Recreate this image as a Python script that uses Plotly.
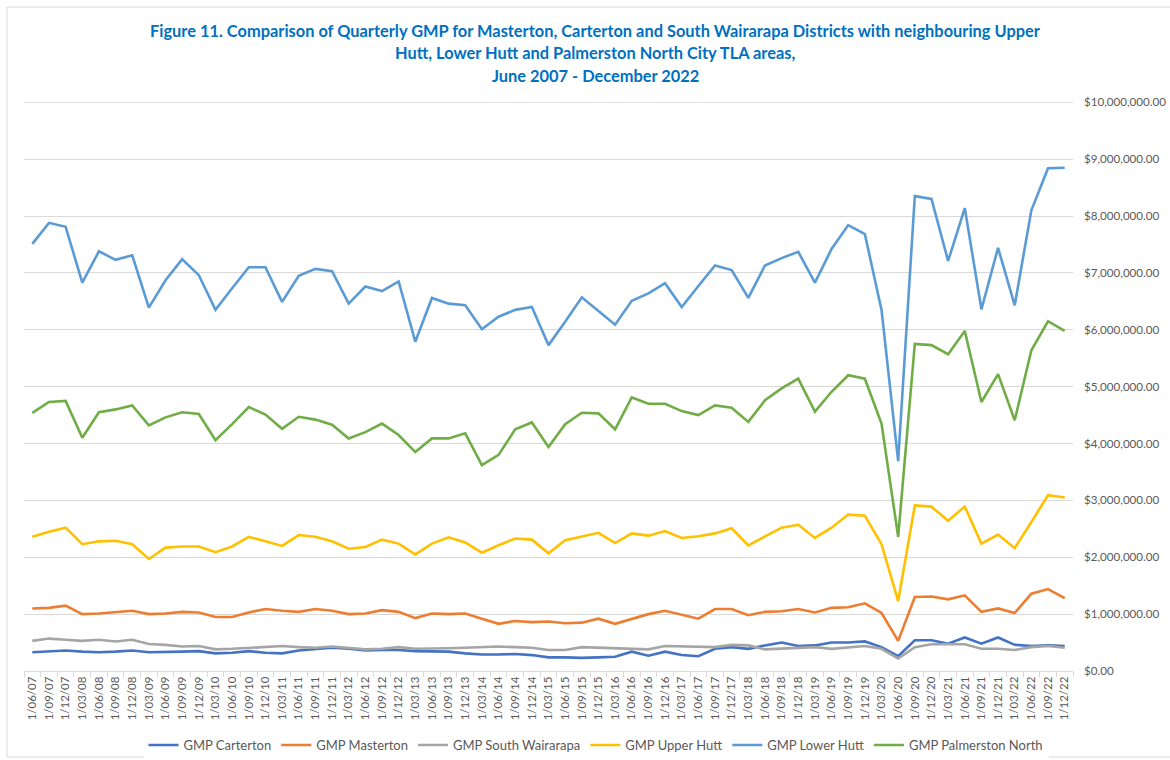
import plotly.graph_objects as go

quarters = []
for yr in range(2007, 2023):
    for mo in ["03", "06", "09", "12"]:
        if yr == 2007 and mo == "03":
            continue
        quarters.append(f"1/{mo}/{str(yr)[2:]}")

carterton = [0.33, 0.35, 0.36, 0.34, 0.33, 0.34, 0.36, 0.33, 0.33, 0.34, 0.35, 0.31, 0.32, 0.35, 0.32, 0.31,
             0.36, 0.38, 0.41, 0.39, 0.36, 0.37, 0.37, 0.35, 0.34, 0.34, 0.31, 0.29, 0.29, 0.30, 0.28, 0.24,
             0.24, 0.23, 0.24, 0.25, 0.34, 0.27, 0.34, 0.28, 0.26, 0.39, 0.42, 0.39, 0.45, 0.50, 0.44, 0.45,
             0.50, 0.50, 0.52, 0.42, 0.26, 0.54, 0.54, 0.48, 0.59, 0.48, 0.59, 0.46, 0.44, 0.45, 0.44]
masterton = [1.10, 1.11, 1.15, 1.00, 1.01, 1.03, 1.06, 1.00, 1.01, 1.04, 1.03, 0.95, 0.95, 1.03, 1.09, 1.06,
             1.04, 1.09, 1.06, 1.00, 1.01, 1.07, 1.04, 0.93, 1.01, 1.00, 1.01, 0.92, 0.83, 0.88, 0.86, 0.87,
             0.84, 0.85, 0.92, 0.83, 0.91, 1.00, 1.06, 0.99, 0.92, 1.09, 1.09, 0.98, 1.04, 1.05, 1.09, 1.03,
             1.11, 1.12, 1.19, 1.02, 0.53, 1.30, 1.31, 1.26, 1.33, 1.04, 1.10, 1.02, 1.36, 1.44, 1.28]
south_wairarapa = [0.53, 0.57, 0.55, 0.53, 0.55, 0.52, 0.55, 0.475, 0.46, 0.43, 0.44, 0.38, 0.39, 0.41, 0.42, 0.44,
                   0.42, 0.41, 0.43, 0.41, 0.38, 0.39, 0.42, 0.39, 0.39, 0.40, 0.41, 0.42, 0.43, 0.42, 0.41, 0.37,
                   0.37, 0.42, 0.41, 0.39, 0.38, 0.38, 0.44, 0.43, 0.42, 0.42, 0.46, 0.45, 0.38, 0.39, 0.41, 0.42,
                   0.39, 0.41, 0.44, 0.39, 0.22, 0.42, 0.47, 0.47, 0.47, 0.39, 0.39, 0.37, 0.42, 0.44, 0.41]
upper_hutt = [2.36, 2.45, 2.52, 2.23, 2.28, 2.29, 2.23, 1.97, 2.17, 2.19, 2.19, 2.09, 2.19, 2.36, 2.28, 2.20,
              2.39, 2.36, 2.28, 2.15, 2.18, 2.31, 2.24, 2.05, 2.24, 2.35, 2.26, 2.08, 2.21, 2.33, 2.31, 2.07,
              2.30, 2.36, 2.43, 2.25, 2.42, 2.38, 2.46, 2.34, 2.37, 2.42, 2.51, 2.21, 2.36, 2.52, 2.57, 2.34,
              2.52, 2.75, 2.73, 2.23, 1.23, 2.91, 2.89, 2.64, 2.89, 2.24, 2.40, 2.16, 2.62, 3.09, 3.05]
lower_hutt = [7.51, 7.88, 7.81, 6.83, 7.38, 7.23, 7.31, 6.39, 6.87, 7.24, 6.96, 6.35, 6.73, 7.10, 7.10, 6.49,
              6.95, 7.07, 7.03, 6.46, 6.76, 6.68, 6.85, 5.79, 6.56, 6.46, 6.43, 6.01, 6.23, 6.35, 6.40, 5.73,
              6.14, 6.57, 6.33, 6.09, 6.51, 6.64, 6.82, 6.40, 6.77, 7.13, 7.05, 6.56, 7.13, 7.26, 7.37, 6.83,
              7.42, 7.84, 7.68, 6.35, 3.69, 8.35, 8.30, 7.21, 8.14, 6.36, 7.44, 6.43, 8.10, 8.84, 8.85]
palmerston_north = [4.54, 4.73, 4.75, 4.10, 4.55, 4.60, 4.67, 4.32, 4.46, 4.55, 4.52, 4.06, 4.34, 4.64, 4.51, 4.26,
                    4.47, 4.42, 4.33, 4.09, 4.20, 4.35, 4.15, 3.85, 4.09, 4.09, 4.18, 3.62, 3.80, 4.25, 4.37, 3.94,
                    4.34, 4.54, 4.53, 4.25, 4.81, 4.70, 4.70, 4.57, 4.50, 4.67, 4.63, 4.38, 4.76, 4.97, 5.14, 4.56,
                    4.91, 5.20, 5.14, 4.35, 2.36, 5.75, 5.73, 5.57, 5.98, 4.73, 5.22, 4.41, 5.64, 6.15, 5.98]

series_names = ["GMP Carterton", "GMP Masterton", "GMP South Wairarapa", "GMP Upper Hutt",
                "GMP Lower Hutt", "GMP Palmerston North"]
series_values = [carterton, masterton, south_wairarapa, upper_hutt, lower_hutt, palmerston_north]
series_colors = ["#4472C4", "#ED7D31", "#A5A5A5", "#FFC000", "#5B9BD5", "#70AD47"]

y_max = 10_000_000
y_step = 1_000_000

title_lines = [
    "Figure 11. Comparison of Quarterly GMP for Masterton, Carterton and South Wairarapa Districts with neighbouring Upper",
    "Hutt, Lower Hutt and Palmerston North City TLA areas,",
    "June 2007 - December 2022",
]

fig = go.Figure()
for name, vals, col in zip(series_names, series_values, series_colors):
    fig.add_trace(go.Scatter(
        x=quarters, y=[v * 1_000_000 for v in vals], name=name, mode="lines",
        line=dict(color=col, width=2.6), hoverinfo="x+y+name"))

W, H = 1170, 760
L, R, T, B = 24, 97, 102, 89
pw, ph = W - L - R, H - T - B

def px_x(x):
    return (x - L) / pw

def px_y(y):
    return (H - B - y) / ph

annotations = []
for i, line in enumerate(title_lines):
    annotations.append(dict(
        text=f"<b>{line}</b>", x=px_x(595), y=px_y(30 + 22.5 * i), xref="paper", yref="paper",
        xanchor="center", yanchor="middle", showarrow=False,
        font=dict(family="Lato, Open Sans, sans-serif", size=16.4, color="#0070C0")))

fig.update_layout(
    width=W, height=H,
    margin=dict(l=L, r=R, t=T, b=B, autoexpand=False),
    paper_bgcolor="white", plot_bgcolor="white",
    font=dict(family="Lato, Open Sans, sans-serif", color="#595959", size=11),
    showlegend=True,
    legend=dict(orientation="h", x=px_x(596), xanchor="center", y=px_y(745), yanchor="middle",
                font=dict(size=13, color="#595959"), itemwidth=30, tracegroupgap=0),
    annotations=annotations,
    shapes=[
        dict(type="rect", xref="paper", yref="paper",
             x0=px_x(7), x1=px_x(1175), y0=px_y(757), y1=px_y(7),
             line=dict(color="#D9D9D9", width=1), fillcolor="rgba(0,0,0,0)", layer="below"),
        dict(type="line", xref="paper", yref="y", x0=0, x1=1, y0=y_max, y1=y_max,
             line=dict(color="#D9D9D9", width=1), layer="below"),
    ],
)

fig.update_xaxes(
    type="category", tickangle=-90, tickson="boundaries", ticks="outside", ticklen=5,
    tickcolor="#D9D9D9", showline=True, linecolor="#D9D9D9", linewidth=1, automargin=False,
    showgrid=False, tickfont=dict(size=11.5, color="#595959"), range=[-0.5, len(quarters) - 0.5])

fig.update_yaxes(
    side="right", range=[0, y_max * 1.0005], tickvals=[i * y_step for i in range(11)], tickformat="$,.2f",
    automargin=False, showgrid=True, gridcolor="#D9D9D9", gridwidth=1, zeroline=False, showline=False,
    ticks="", ticklabelstandoff=10, tickfont=dict(size=11.6, color="#595959"))

fig.write_html("out.html", config={"displayModeBar": False},
               post_script="document.body.style.margin='0';")
